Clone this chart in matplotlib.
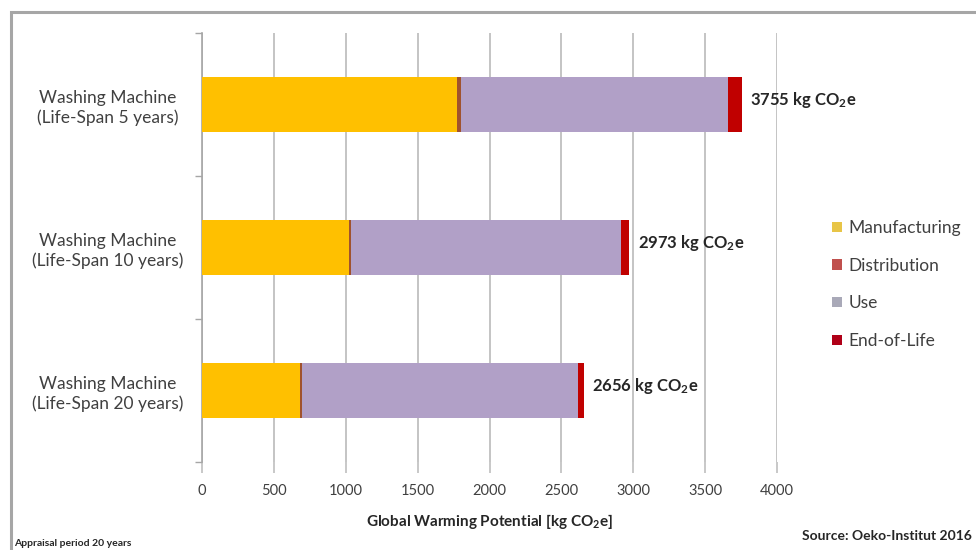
import matplotlib
matplotlib.use("Agg")
import matplotlib.pyplot as plt
from matplotlib.patches import Rectangle, Patch
import numpy as np

plt.rcParams['font.family'] = ['Lato', 'DejaVu Sans']
plt.rcParams['mathtext.fontset'] = 'custom'
plt.rcParams['mathtext.rm'] = 'Lato'
plt.rcParams['mathtext.bf'] = 'Lato:bold'

categories = ["Washing Machine\n(Life-Span 5 years)",
              "Washing Machine\n(Life-Span 10 years)",
              "Washing Machine\n(Life-Span 20 years)"]
manufacturing = [1775, 1022, 685]
distribution = [25, 12, 8]
use = [1860, 1881, 1923]
end_of_life = [95, 58, 40]
totals = [3755, 2973, 2656]
series_names = ["Manufacturing", "Distribution", "Use", "End-of-Life"]
xticks = [0, 500, 1000, 1500, 2000, 2500, 3000, 3500, 4000]

colors = ["#FFC000", "#A0522D", "#B1A0C7", "#C00000"]
legend_colors = ["#E8C547", "#C0504D", "#A9A9B8", "#B00018"]

fig = plt.figure(figsize=(9.76, 5.5), dpi=100)
ax = fig.add_axes([202/976, 1-462/550, 575/976, 429/550])

ypos = np.arange(len(categories))
left = np.zeros(len(categories))
for vals, col in zip([manufacturing, distribution, use, end_of_life], colors):
    ax.barh(ypos, vals, left=left, height=0.385, color=col, zorder=3)
    left += np.array(vals)

for y, t in zip(ypos, totals):
    ax.text(t + 60, y - 0.03, f"{t} kg CO$\\mathbf{{_2}}$e", va="center", ha="left",
            fontsize=12, fontweight="bold", color="#262626", zorder=4)

ax.set_xlim(0, 4000)
ax.set_ylim(2.5, -0.5)
ax.set_xticks(xticks)
ax.set_xticklabels([str(v) for v in xticks], fontsize=10.5, color="#404040")
ax.set_yticks(ypos)
ax.set_yticklabels(categories, fontsize=12.5, color="#404040", ha="center", linespacing=1.25)
ax.tick_params(axis="y", length=0, pad=68)
ax.set_yticks([-0.5, 0.5, 1.5, 2.5], minor=True)
ax.tick_params(axis="y", which="minor", length=5, color="#A6A6A6", width=1)
ax.tick_params(axis="x", length=8, color="#BFBFBF", width=1.2, pad=8)
ax.grid(axis="x", color="#BFBFBF", linewidth=1.3, zorder=0)
for side in ["top", "right", "bottom"]:
    ax.spines[side].set_visible(False)
ax.spines["left"].set_color("#A6A6A6")
ax.spines["left"].set_linewidth(1.2)

ax.set_xlabel("Global Warming Potential [kg CO$\\mathbf{_2}$e]", fontsize=11,
              fontweight="bold", color="#262626", labelpad=10)

handles = [Patch(facecolor=c, edgecolor="none") for c in legend_colors]
leg = fig.legend(handles, series_names, loc="upper left", bbox_to_anchor=(832/976, 1-220/550),
                 frameon=False, fontsize=12.5, handlelength=0.55, handleheight=0.55,
                 handletextpad=0.4, labelspacing=1.25, borderaxespad=0, borderpad=0)
for txt in leg.get_texts():
    txt.set_color("#404040")

fig.text(14/976, 1-544/550, "Appraisal period 20 years", fontsize=7.5, fontweight="bold",
         color="#262626", va="center", ha="left")
fig.text(972/976, 1-536/550, "Source: Oeko-Institut 2016", fontsize=10, fontweight="bold",
         color="#262626", va="center", ha="right")

frame = Rectangle((11/976, -0.1), 1.2, 1 - 12/550 + 0.1, transform=fig.transFigure,
                  fill=False, edgecolor="#A6A6A6", linewidth=2.2, clip_on=False)
fig.patches.append(frame)

fig.savefig("out.png", dpi=100)
